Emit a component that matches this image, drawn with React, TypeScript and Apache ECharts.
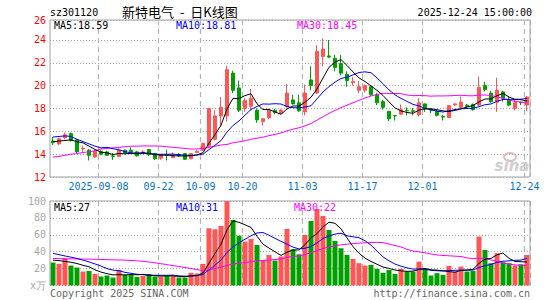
import React, { useEffect, useRef } from 'react';
import * as echarts from 'echarts';

const dates = [
  '2025-08-27','2025-08-28','2025-08-29','2025-09-01','2025-09-02','2025-09-03','2025-09-04','2025-09-05',
  '2025-09-08','2025-09-09','2025-09-10','2025-09-11','2025-09-12','2025-09-15','2025-09-16','2025-09-17',
  '2025-09-18','2025-09-19','2025-09-22','2025-09-23','2025-09-24','2025-09-25','2025-09-26','2025-09-29',
  '2025-09-30','2025-10-09','2025-10-10','2025-10-13','2025-10-14','2025-10-15','2025-10-16','2025-10-17',
  '2025-10-20','2025-10-21','2025-10-22','2025-10-23','2025-10-24','2025-10-27','2025-10-28','2025-10-29',
  '2025-10-30','2025-10-31','2025-11-03','2025-11-04','2025-11-05','2025-11-06','2025-11-07','2025-11-10',
  '2025-11-11','2025-11-12','2025-11-13','2025-11-14','2025-11-17','2025-11-18','2025-11-19','2025-11-20',
  '2025-11-21','2025-11-24','2025-11-25','2025-11-26','2025-11-27','2025-11-28','2025-12-01','2025-12-02',
  '2025-12-03','2025-12-04','2025-12-05','2025-12-08','2025-12-09','2025-12-10','2025-12-11','2025-12-12',
  '2025-12-15','2025-12-16','2025-12-17','2025-12-18','2025-12-19','2025-12-22','2025-12-23','2025-12-24',
];

const opens = [
  15.15, 14.9, 15.45, 15.8, 15.25, 14.45, 14.35, 13.75, 14.25, 14.2,
  13.85, 13.8, 14.35, 14.35, 14.2, 14.15, 14.4, 14.05, 13.65, 13.95,
  13.7, 13.95, 14.05, 13.6, 14.15, 14.35, 14.7, 15.3, 17.35, 17.35,
  21.1, 19.8, 18.0, 18.2, 17.85, 16.85, 17.2, 17.85, 17.6, 18.15,
  18.75, 18.5, 17.7, 20.5, 19.35, 22.55, 22.6, 22.4, 21.95, 21.0,
  20.25, 19.6, 19.6, 19.9, 19.2, 18.6, 17.75, 17.38, 17.5, 17.85,
  17.8, 17.45, 18.4, 17.95, 17.75, 17.3, 17.2, 18.3, 18.1, 18.3,
  18.35, 18.3, 20.0, 19.35, 18.55, 19.45, 18.75, 18.0, 18.55, 18.3,
];
const closes = [
  15.0, 15.35, 15.7, 15.2, 14.2, 14.5, 13.9, 14.25, 14.0, 13.9,
  13.8, 14.35, 14.1, 14.2, 13.85, 14.2, 13.95, 13.6, 13.95, 13.9,
  13.95, 13.85, 13.55, 14.05, 14.25, 14.95, 18.0, 17.35, 18.1, 21.4,
  19.6, 17.85, 18.7, 18.9, 17.0, 17.1, 17.85, 17.65, 17.85, 19.35,
  18.4, 17.8, 19.35, 20.0, 23.0, 23.2, 22.5, 21.6, 21.1, 20.45,
  20.35, 19.9, 20.0, 19.2, 18.5, 18.1, 17.1, 17.35, 17.9, 17.8,
  17.75, 18.5, 17.95, 17.85, 17.4, 17.25, 18.25, 18.4, 18.55, 18.2,
  17.9, 19.85, 19.65, 18.6, 19.6, 18.9, 18.3, 18.55, 18.5, 19.0,
];
const lows = [
  14.8, 14.8, 15.3, 15.1, 14.1, 14.2, 13.45, 13.65, 13.9, 13.85,
  13.5, 13.75, 14.0, 14.1, 13.8, 14.05, 13.85, 13.5, 13.5, 13.45,
  13.65, 13.75, 13.5, 13.55, 14.1, 14.3, 14.6, 15.2, 16.4, 16.85,
  19.35, 17.7, 17.7, 17.85, 16.75, 16.5, 17.05, 17.5, 17.5, 18.0,
  18.35, 17.7, 17.4, 19.6, 19.3, 21.7, 22.4, 21.25, 20.9, 19.9,
  20.0, 19.35, 19.4, 19.1, 18.3, 17.9, 16.9, 16.95, 17.45, 17.4,
  17.4, 17.3, 17.7, 17.6, 17.3, 16.95, 17.15, 18.25, 18.0, 17.95,
  17.8, 18.2, 19.5, 18.5, 17.7, 18.6, 18.2, 17.85, 18.3, 17.75,
];
const highs = [
  15.5, 15.45, 15.9, 15.9, 15.3, 14.75, 14.45, 14.35, 14.35, 14.3,
  14.1, 14.5, 14.4, 14.6, 14.3, 14.35, 14.45, 14.1, 14.0, 14.4,
  14.15, 14.1, 14.1, 14.1, 14.35, 15.0, 18.0, 17.85, 19.0, 21.75,
  21.3, 20.45, 18.9, 19.7, 18.0, 17.15, 18.0, 17.95, 17.95, 20.15,
  19.2, 19.2, 20.1, 21.7, 23.55, 24.15, 24.0, 22.7, 22.7, 21.25,
  20.75, 20.4, 20.1, 19.95, 19.35, 18.75, 17.8, 17.4, 18.35, 18.1,
  18.05, 18.9, 18.45, 18.0, 17.9, 17.45, 18.3, 18.45, 19.05, 18.4,
  18.45, 20.8, 20.35, 19.55, 20.7, 19.55, 19.05, 18.75, 18.6, 19.1,
];
const volumes = [
  27.2, 25.6, 32.3, 23.6, 21.3, 16.5, 17.3, 13.8, 10.6, 11.8,
  9.4, 18.5, 12.6, 12.6, 10.2, 11.4, 13.4, 10.6, 10.6, 11.4,
  11.4, 9.4, 9.4, 15.0, 14.2, 25.6, 67.7, 66.5, 70.5, 100,
  77.6, 59, 52, 55.1, 48, 30.3, 36.2, 29.5, 34.3, 67,
  42.9, 37, 59.8, 76.4, 90.6, 82.3, 65.7, 52.8, 44.1, 36.2,
  31.5, 26.4, 23.6, 24.4, 19.7, 15.0, 18.5, 13.8, 19.7, 16.5,
  16.5, 28.3, 19.7, 11.8, 14.6, 12.6, 23.2, 16.5, 22.4, 16.5,
  17.3, 57.9, 42.1, 26.4, 38.2, 27.6, 26.4, 23.6, 25.2, 36.2,
];

// Leading moving-average values (before a full window exists)
const priceMa5Lead = [15.1, 15.15, 15.2, 15.25];
const priceMa10Lead = [15.5, 15.55, 15.6, 15.55, 15.3, 15.1, 14.9, 14.7, 14.55];
const priceMa30Lead = [
  13.75, 13.8, 13.9, 14.0, 14.05, 14.15, 14.2, 14.3, 14.45, 14.5,
  14.55, 14.6, 14.65, 14.7, 14.7, 14.72, 14.72, 14.72, 14.7, 14.65,
  14.6, 14.55, 14.5, 14.45, 14.45, 14.5, 14.6, 14.7, 14.8,
];
const volMa5Lead = [30, 29.5, 28.5, 27.5];
const volMa10Lead = [38, 36.5, 35, 33.5, 32, 30, 28, 25.5, 23];
const volMa30Lead = [
  32, 31.8, 31.6, 31.5, 31.4, 31.3, 31.2, 31, 30.8, 30.6,
  30.4, 30.2, 30, 29.6, 29.2, 28.6, 27.8, 26.8, 25.8, 24.7,
  23.5, 22.5, 21.3, 20.2, 18.8, 17.5, 18.5, 20, 22,
];

const labelDates = ['2025-09-08', '2025-09-22', '2025-10-09', '2025-10-20', '2025-11-03', '2025-11-17', '2025-12-01', '2025-12-24'];

const stockCode = 'sz301120';
const titleName = '新特电气';
const titleKind = '-  日K线图';
const timestamp = '2025-12-24 15:00:00';
const priceLegend = ['MA5:18.59', 'MA10:18.81', 'MA30:18.45'];
const volLegend = ['MA5:27', 'MA10:31', 'MA30:22'];
const copyright = 'Copyright 2025 SINA.COM';
const siteUrl = 'http://finance.sina.com.cn';

const priceMin = 12;
const priceMax = 25.75;
const priceStep = 2;
const volMin = 0;
const volMax = 100;
const volStep = 20;

const MONO = '"DejaVu Sans Mono", "Liberation Mono", monospace';
const CJK = '"Noto Sans CJK SC", sans-serif';
const UP = '#ff5555';
const DOWN = '#00a000';
const MA_COLORS = ['#000000', '#0000ff', '#ff00ff'];

function movingAverage(src: number[], n: number, lead: number[]): number[] {
  return src.map((_, i) => {
    if (i < n - 1) return lead[i];
    let s = 0;
    for (let k = i - n + 1; k <= i; k++) s += src[k];
    return Math.round((s / n) * 100) / 100;
  });
}

export default function App() {
  const ref = useRef<HTMLDivElement>(null);

  useEffect(() => {
    if (!ref.current) return;
    const chart = echarts.init(ref.current, undefined, { renderer: 'svg' });

    const labelIdx = labelDates.map((d) => dates.indexOf(d));
    const isLabel = (i: number) => labelIdx.indexOf(i) >= 0;

    const candles = dates.map((_, i) => [opens[i], closes[i], lows[i], highs[i]]);
    const volData = volumes.map((v, i) => ({
      value: v,
      itemStyle: { color: closes[i] >= opens[i] ? UP : DOWN },
    }));

    const pMa = [
      movingAverage(closes, 5, priceMa5Lead),
      movingAverage(closes, 10, priceMa10Lead),
      movingAverage(closes, 30, priceMa30Lead),
    ];
    const vMa = [
      movingAverage(volumes, 5, volMa5Lead),
      movingAverage(volumes, 10, volMa10Lead),
      movingAverage(volumes, 30, volMa30Lead),
    ];

    const vSplit = {
      show: true,
      interval: (i: number) => isLabel(i),
      lineStyle: { color: '#b4b4b4', type: [5, 4] as any, width: 1.2 },
    };
    const hSplit = { show: true, lineStyle: { color: '#aaaaaa', type: [1, 2] as any, width: 1 } };

    const lineSeries = (data: number[], color: string, xi: number) => ({
      type: 'line',
      xAxisIndex: xi,
      yAxisIndex: xi,
      data,
      symbol: 'none',
      showSymbol: false,
      lineStyle: { color, width: 1 },
      itemStyle: { color },
      z: 5,
      silent: true,
    });

    const txt = (text: string, x: number, y: number, fill: string, align = 'left', font = `10px ${MONO}`) => ({
      type: 'text',
      silent: true,
      z: 100,
      style: {
        text,
        x,
        y,
        fill,
        font,
        textAlign: align,
        textVerticalAlign: 'middle',
        align,
        verticalAlign: 'middle',
      },
    });

    chart.setOption({
      animation: false,
      backgroundColor: '#ffffff',
      grid: [
        { left: 50, top: 20, width: 480, height: 157, show: true, borderColor: '#a0a0a0', borderWidth: 1, backgroundColor: 'transparent' },
        { left: 50, top: 201, width: 480, height: 84.5, show: false },
      ],
      xAxis: [
        {
          type: 'category',
          gridIndex: 0,
          data: dates,
          boundaryGap: true,
          axisLine: { show: false },
          axisTick: { show: false },
          axisLabel: {
            interval: (i: number) => isLabel(i),
            formatter: (v: string, i: number) => (i === labelIdx[0] ? v : v.slice(5)),
            color: '#0a74c9',
            fontFamily: MONO,
            fontSize: 10,
            margin: 4,
            padding: [0, 5, 0, 0],
          },
          splitLine: vSplit,
        },
        {
          type: 'category',
          gridIndex: 1,
          data: dates,
          boundaryGap: true,
          axisLine: { show: false },
          axisTick: { show: false },
          axisLabel: { show: false },
          splitLine: vSplit,
        },
      ],
      yAxis: [
        {
          type: 'value',
          gridIndex: 0,
          min: priceMin,
          max: priceMax,
          interval: priceStep,
          axisLine: { show: false },
          axisTick: { show: false },
          axisLabel: {
            color: '#ff0000',
            fontFamily: MONO,
            fontSize: 10,
            margin: 4,
            formatter: (v: number) => String(Math.round(v)),
          },
          splitLine: hSplit,
        },
        {
          type: 'value',
          gridIndex: 1,
          min: volMin,
          max: volMax,
          interval: volStep,
          axisLine: { show: false },
          axisTick: { show: false },
          axisLabel: {
            color: '#a8a8a8',
            fontFamily: MONO,
            fontSize: 10,
            margin: 4,
            formatter: (v: number) => (v === 0 ? 'x万' : String(v)),
          },
          splitLine: hSplit,
        },
      ],
      series: [
        {
          type: 'candlestick',
          xAxisIndex: 0,
          yAxisIndex: 0,
          data: candles,
          barWidth: 4,
          itemStyle: { color: UP, color0: DOWN, borderColor: UP, borderColor0: DOWN, borderWidth: 1 },
          z: 3,
          silent: true,
        },
        lineSeries(pMa[2], MA_COLORS[2], 0),
        lineSeries(pMa[1], MA_COLORS[1], 0),
        lineSeries(pMa[0], MA_COLORS[0], 0),
        {
          type: 'bar',
          xAxisIndex: 1,
          yAxisIndex: 1,
          data: volData,
          barWidth: 5,
          z: 3,
          silent: true,
        },
        lineSeries(vMa[2], MA_COLORS[2], 1),
        lineSeries(vMa[1], MA_COLORS[1], 1),
        lineSeries(vMa[0], MA_COLORS[0], 1),
      ],
      graphic: [
        {
          type: 'polyline',
          silent: true,
          z: 50,
          shape: { points: [[50, 285.5], [50, 201], [530, 201], [530, 285.5]] },
          style: { stroke: '#a0a0a0', lineWidth: 1, fill: 'none' },
        },
        txt(stockCode, 50, 12, '#000000'),
        txt(titleName, 122, 11.5, '#000000', 'left', `13px ${CJK}`),
        txt(titleKind, 180, 11.5, '#000000', 'left', `13px ${CJK}`),
        txt(timestamp, 532, 12, '#000000', 'right'),
        txt(priceLegend[0], 54, 25, MA_COLORS[0]),
        txt(priceLegend[1], 176, 25, MA_COLORS[1]),
        txt(priceLegend[2], 297, 25, MA_COLORS[2]),
        txt(volLegend[0], 54, 207.5, MA_COLORS[0]),
        txt(volLegend[1], 176, 207.5, MA_COLORS[1]),
        txt(volLegend[2], 294, 207.5, MA_COLORS[2]),
        txt(copyright, 50, 293, '#666666'),
        txt(siteUrl, 530, 293, '#666666', 'right'),
        {
          type: 'ellipse',
          silent: true,
          z: 1,
          shape: { cx: 510, cy: 157, rx: 6, ry: 4 },
          style: { stroke: '#e3bcbc', lineWidth: 2, fill: 'none' },
        },
        txt('sina', 512, 166, '#cfcfcf', 'center', 'italic bold 15px "DejaVu Sans", sans-serif'),
      ],
    });

    return () => chart.dispose();
  }, []);

  return <div ref={ref} style={{ position: 'absolute', left: 0, top: 0, width: 545, height: 300 }} />;
}
